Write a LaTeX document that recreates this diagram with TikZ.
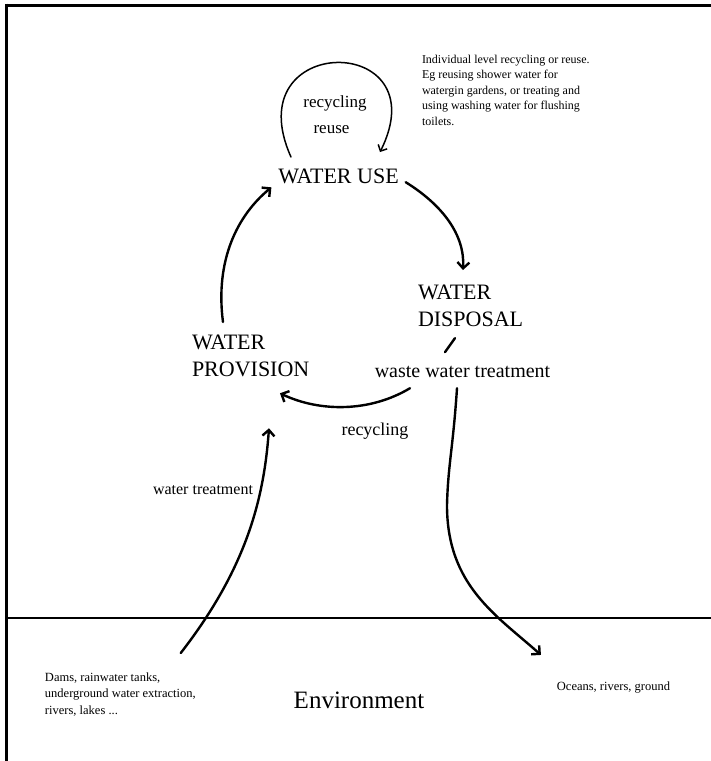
\documentclass[tikz,border=0pt]{standalone}
\usepackage{fontspec}
\setmainfont{Liberation Serif}
\usetikzlibrary{arrows.meta}
\begin{document}
\begin{tikzpicture}[x=1pt,y=-1pt,
    lbl/.style={inner sep=0pt,outer sep=0pt},
    big/.style={lbl,font=\fontsize{22}{27}\selectfont,align=left},
    mid/.style={lbl,font=\fontsize{17}{20}\selectfont},
    note/.style={lbl,font=\fontsize{12}{15.5}\selectfont,align=left},
    flow/.style={line width=2.4pt,line cap=round,-{Straight Barb[length=6pt,width=12pt]}},
    loopy/.style={line width=1.5pt,line cap=round,-{Straight Barb[length=5pt,width=10pt]}}]
    \useasboundingbox (0,0) rectangle (711,761);

    \draw[line width=3pt] (5,5) -- (711,5);
    \draw[line width=3pt] (6,3.5) -- (6,761);

    \pgfmathsetmacro{\ground}{618}
    \draw[line width=2.5pt] (6,\ground) -- (711,\ground);

    \node[big,anchor=base] (use) at (338.5,183) {WATER USE};
    \node[big,anchor=north west] (disposal) at (418,285) {WATER\\DISPOSAL};
    \node[big,anchor=north west] (provision) at (192,335) {WATER\\PROVISION};

    \node[mid,anchor=base] (recA) at (335,107) {recycling};
    \node[mid,anchor=base] (reuse) at (331.5,133) {reuse};
    \node[mid,anchor=base,font=\fontsize{20}{24}\selectfont] (waste) at (462.5,377) {waste water treatment};
    \node[mid,anchor=base,font=\fontsize{18}{22}\selectfont] (recB) at (375,435) {recycling};
    \node[mid,anchor=base,font=\fontsize{16}{20}\selectfont] (treat) at (203,494) {water treatment};

    \node[note,anchor=north west] (indiv) at (422,55) {Individual level recycling or reuse.\\Eg reusing shower water for\\watergin gardens, or treating and\\using washing water for flushing\\toilets.};

    \node[note,anchor=north west,font=\fontsize{12.5}{16.5}\selectfont] (dams) at (45,672.5) {Dams, rainwater tanks,\\underground water extraction,\\rivers, lakes ...};
    \node[lbl,anchor=base,font=\fontsize{25}{30}\selectfont] (env) at (359,708) {Environment};
    \node[lbl,anchor=base,font=\fontsize{12.5}{15}\selectfont] (oceans) at (613.5,690) {Oceans, rivers, ground};

    \draw[loopy] ([shift={(-47.5,-11.4)}]use.north) .. controls +(-56,-125) and +(60,-120) .. ([shift={(41.5,-16.4)}]use.north);

    \draw[flow] ([shift={(7,6.3)}]use.east) .. controls +(37,23) and +(2,-35) .. ([shift={(-7.6,-15)}]disposal.north);
    \draw[line width=2.4pt,line cap=round] ([shift={(-15.6,11.4)}]disposal.south) -- ([shift={(-17.5,-13.6)}]waste.north);
    \draw[flow] ([shift={(-52.5,11)}]waste.south) .. controls +(-40,24) and +(40,19) .. ([shift={(29.3,16.4)}]provision.south);
    \draw[flow] ([shift={(-27.7,-13)}]provision.north) .. controls +(-8,-62) and +(-34,28) .. ([shift={(-6.9,4)}]use.south west);

    \draw[flow] ([shift={(-15,-19.5)}]dams.north east) .. controls +(66,-85) and +(-5,70) .. ([shift={(18.3,51.4)}]provision.south);
    \draw[flow] ([shift={(-5.5,11)}]waste.south) .. controls +(-4,60) and +(1,-40) .. ++(-10,117) .. controls +(0,80) and +(-45,-40) .. ([shift={(-16,-26.4)}]oceans.north west);
  \end{tikzpicture}
\end{document}
